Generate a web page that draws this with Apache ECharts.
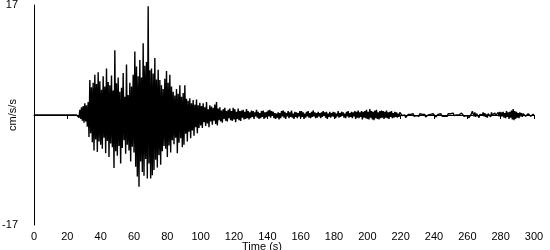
<!DOCTYPE html>
<html><head><meta charset="utf-8">
<script src="https://cdn.jsdelivr.net/npm/echarts@6/dist/echarts.min.js"></script>
<style>html,body{margin:0;padding:0;background:#fff}#c{width:550px;height:250px}</style>
</head><body><div id="c"></div>
<script>
// sampling interval of the trace (s)
var sampleStep = 0.5;
// acceleration samples (cm/s/s), one every 0.5 s from t = 0 to t = 300
var accel = [
0,0,0,0,0,0,0,0,0,0,0,0,0,0,0,0,0,0,0,0,
0,0,0,0,0,0,0,0,0,0,0,0,0,0,0,0,0,0,0,0,
0,0,0,0,0,0,0,0,0,0,0,0,0,0.3,-0.4,0.8,-0.6,1.2,-0.9,1.4,
-1.2,1.8,-1.0,1.5,-1.8,2.0,-3.4,5.4,-2.8,4.3,-4.2,5.0,-5.5,6.2,-3.8,4.8,-5.7,6.6,-4.1,5.2,
-4.6,3.9,-5.2,6.0,-3.5,4.4,-5.9,7.2,-4.0,5.1,-6.5,4.6,-4.4,6.1,-5.0,3.8,-8.2,10.0,-5.6,4.9,
-6.3,5.8,-4.8,3.6,-7.5,4.2,-5.1,6.5,-3.9,2.8,-6.0,7.8,-4.6,3.1,-5.5,5.0,-7.2,4.4,-4.9,6.2,
-5.8,9.8,-8.0,7.5,-9.5,6.0,-11.1,8.5,-7.2,5.8,-8.8,11.1,-9.4,7.6,-6.8,8.2,-9.8,16.8,-7.5,6.9,
-9.8,7.2,-9.3,6.4,-8.5,8.8,-6.9,5.5,-8.1,7.0,-6.2,5.4,-7.7,4.6,-5.6,4.0,-4.8,5.6,-5.2,6.8,
-6.5,5.0,-4.7,6.2,-5.8,4.4,-3.9,3.6,-4.5,3.0,-3.5,4.0,-5.9,3.3,-4.3,4.6,-3.6,2.8,-5.0,3.4,
-4.6,4.6,-2.9,2.5,-4.1,2.2,-2.6,2.6,-3.6,1.8,-2.4,2.3,-3.2,1.6,-1.9,2.4,-2.8,1.5,-2.0,1.9,
-1.6,1.4,-2.0,1.8,-1.1,1.2,-1.7,2.0,-1.3,0.9,-1.9,1.5,-1.0,1.3,-1.5,1.1,-0.9,1.6,-1.4,2.0,
-1.6,1.0,-0.8,1.2,-1.0,0.7,-1.2,0.9,-0.6,1.1,-0.9,0.6,-1.0,0.8,-0.5,1.0,-0.8,0.6,-0.9,1.1,
-0.7,0.9,-1.1,0.5,-0.6,1.0,-0.8,0.6,-0.9,0.7,-0.4,0.8,-0.7,0.5,-0.6,0.9,-0.5,0.6,-0.7,0.4,
-0.5,0.7,-0.3,0.6,-0.6,0.4,-0.2,0.8,-0.4,0.5,-0.6,0.3,-0.5,0.6,-0.3,0.7,-0.6,0.4,-0.4,0.5,
-0.3,0.7,-0.2,0.8,-0.4,0.6,-0.1,0.5,-0.5,0.3,-0.6,0.2,-0.4,0.4,-0.7,0.3,-0.5,0.6,-0.2,0.7,
-0.4,0.5,-0.6,0.3,-0.2,0.6,-0.5,0.4,-0.3,0.7,-0.4,0.2,-0.6,0.5,-0.3,0.4,-0.5,0.3,-0.2,0.6,
-0.5,0.6,-0.3,0.4,-0.6,0.2,-0.4,0.5,-0.2,0.6,-0.4,0.3,-0.5,0.5,-0.3,0.7,-0.2,0.4,-0.5,0.3,
-0.4,0.5,-0.2,0.3,-0.5,0.4,-0.3,0.6,-0.1,0.4,-0.4,0.5,-0.6,0.2,-0.3,0.5,-0.4,0.3,-0.2,0.5,
-0.3,0.4,-0.5,0.2,-0.2,0.6,-0.4,0.3,-0.3,0.5,-0.1,0.4,-0.4,0.2,-0.5,0.5,-0.2,0.6,-0.4,0.3,
-0.3,0.5,-0.5,0.4,-0.2,0.6,-0.6,0.5,-0.4,0.7,-0.5,0.4,-0.3,0.6,-0.7,0.5,-0.4,0.6,-0.5,0.8,
-0.6,0.5,-0.7,0.9,-0.4,0.6,-0.7,0.5,-0.8,0.7,-0.5,0.8,-0.6,0.4,-0.7,0.6,-0.5,0.7,-0.4,0.6,
-0.6,0.5,-0.4,0.7,-0.5,0.4,-0.6,0.5,-0.3,0.6,-0.5,0.3,-0.4,0.5,-0.3,0.4,-0.4,0.2,-0.3,0.4,
0.1,0.3,-0.1,0.2,-0.3,0.0,-0.4,-0.1,-0.3,0.1,0.0,0.3,0.1,0.4,0.0,0.2,-0.2,0.1,-0.3,-0.1,
-0.4,-0.1,-0.2,0.2,0.0,0.3,0.1,0.2,-0.1,0.1,-0.3,-0.1,-0.4,0.0,-0.2,0.2,0.1,0.3,0.0,0.2,
-0.1,0.1,-0.3,-0.1,-0.2,0.1,0.0,0.3,0.2,0.1,-0.2,0.0,-0.3,-0.2,-0.4,0.0,-0.2,0.2,0.1,0.4,
0.2,0.5,0.1,0.3,-0.1,0.2,-0.2,0.0,-0.3,0.1,0.0,0.2,-0.1,0.3,0.1,0.2,-0.2,0.0,-0.3,-0.1,
-0.2,0.1,-0.4,-0.6,-0.3,0.2,0.6,0.3,-0.2,0.4,-0.3,0.2,-0.1,0.3,-0.4,0.1,-0.2,0.3,0.0,0.4,
-0.2,0.3,-0.3,0.1,-0.4,0.2,-0.1,0.3,-0.3,0.4,0.0,0.2,-0.2,0.3,-0.1,0.2,-0.3,0.4,-0.2,0.5,
-0.3,0.4,-0.2,0.5,-0.4,0.3,-0.5,0.6,-0.3,0.4,-0.6,0.5,-0.4,0.7,-0.7,0.9,-0.8,0.6,-0.6,0.5,
-0.4,0.3,-0.5,0.4,-0.2,0.3,-0.3,0.2,-0.1,0.3,-0.2,0.1,-0.2,0.2,-0.1,0.1,-0.2,0.1,0.0,0.1,
0
];
var xTicks = [0,20,40,60,80,100,120,140,160,180,200,220,240,260,280,300];
var yLabels = [-17, 17];
var xTitle = 'Time (s)';
var yTitle = 'cm/s/s';

var pts = accel.map(function (v, i) { return [i * sampleStep, v]; });
var font = 'Liberation Sans, Arial, sans-serif';
var chart = echarts.init(document.getElementById('c'), null, {renderer: 'canvas'});
chart.setOption({
  animation: false,
  backgroundColor: '#fff',
  grid: {left: 34, right: 16, top: 5, bottom: 25, containLabel: false, outerBoundsMode: 'none'},
  xAxis: {
    type: 'value', min: 0, max: 300, interval: 20,
    axisLine: {show: true, lineStyle: {color: '#000', width: 1}},
    axisTick: {show: true, length: 4, lineStyle: {color: '#000'}},
    axisLabel: {color: '#000', fontSize: 11, fontFamily: font, margin: 6},
    splitLine: {show: false},
    name: xTitle, nameLocation: 'middle', nameGap: 16, nameMoveOverlap: false,
    nameTextStyle: {color: '#000', fontSize: 11, fontFamily: font, padding: [0, 44, 0, 0], verticalAlign: 'top'}
  },
  yAxis: {
    type: 'value', min: -17, max: 17,
    axisLine: {show: true, onZero: false, lineStyle: {color: '#000', width: 1}},
    axisTick: {show: false},
    axisLabel: {color: '#000', fontSize: 11, fontFamily: font, margin: 16, customValues: yLabels},
    splitLine: {show: false},
    name: yTitle, nameLocation: 'middle', nameGap: 16, nameRotate: 90, nameMoveOverlap: false,
    nameTextStyle: {color: '#000', fontSize: 11, fontFamily: font}
  },
  series: [{
    type: 'line', data: pts, showSymbol: false, symbol: 'none',
    lineStyle: {color: '#000', width: 1.4}, clip: false
  }]
});
</script></body></html>
